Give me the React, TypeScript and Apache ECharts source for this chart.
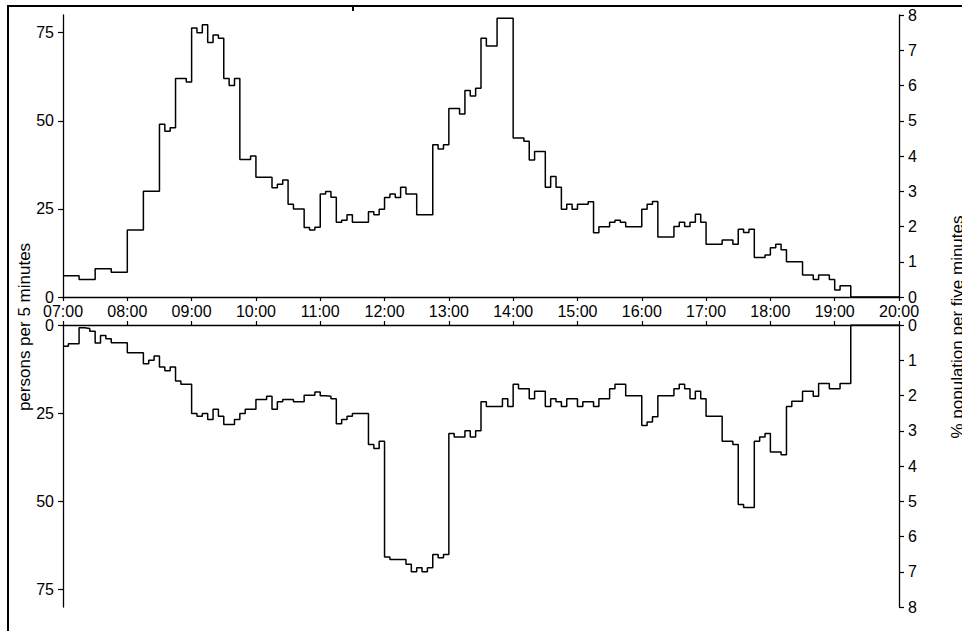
import React, { useEffect, useRef } from "react";
import * as echarts from "echarts";

// tick labels for the time axis (every hour from 07:00 to 20:00)
const hourLabels = [
  "07:00", "08:00", "09:00", "10:00", "11:00", "12:00", "13:00",
  "14:00", "15:00", "16:00", "17:00", "18:00", "19:00", "20:00",
];
const stepMinutes = 5;
const leftTicks = [0, 25, 50, 75];
const rightTicks = [0, 1, 2, 3, 4, 5, 6, 7, 8];

// persons per 5 minutes, upper panel (07:00 .. 20:00, 156 intervals)
const upperSeries = [
  6, 6, 6, 5, 5, 5, 8, 8, 8, 7, 7, 7,
  19, 19, 19, 30, 30, 30, 49, 47, 48, 62, 62, 61,
  76.3, 75, 77.2, 72.2, 74.3, 73.4, 62, 60, 62, 39, 39, 40,
  34, 34, 34, 31, 32, 33.2, 26.3, 25, 25, 19.7, 19, 19.8,
  29.2, 29.9, 28.3, 21.2, 21.8, 23.3, 21.2, 21.2, 21.2, 24.2, 23.3, 24.9,
  28.2, 29.2, 28.2, 31.1, 29.2, 29.2, 23.3, 23.3, 23.3, 43.2, 42, 43.2,
  53.5, 53.5, 51.9, 58.6, 57, 59.2, 73.4, 71.2, 71.2, 79.1, 79.1, 79.1,
  45.1, 45.1, 44.2, 38.9, 41.3, 41.3, 31.1, 34.2, 31.1, 24.9, 26.3, 24.9,
  26.3, 26.3, 27, 18.2, 19.9, 19.9, 21.2, 21.8, 21.2, 19.9, 19.9, 19.9,
  24.9, 26.3, 27.1, 17, 17, 17, 20, 21.2, 20, 21.2, 23.5, 21.2,
  15, 15, 15, 16.2, 16.2, 15, 19.2, 18.3, 19.2, 11.2, 11.2, 11.9,
  14, 15, 13.4, 10, 10, 10, 6.25, 6.25, 5, 6.25, 6.25, 5,
  2, 3.2, 3.2, 0, 0, 0, 0, 0, 0, 0, 0, 0,
];

// persons per 5 minutes, lower panel (drawn downward)
const lowerSeries = [
  6, 5.3, 5.3, 0.8, 1, 1.8, 5.1, 3, 3.9, 5, 5, 5,
  7.9, 7.9, 7.9, 11, 10, 8.8, 11.9, 13, 11.9, 15.9, 16.8, 16.8,
  25.1, 25.9, 25.1, 26.8, 23.9, 25.9, 28.2, 28.2, 26.8, 25.1, 23.9, 23.9,
  21.1, 21.1, 20.2, 23.9, 21.8, 21.1, 21.1, 21.8, 21.8, 19.9, 19.9, 19,
  20.1, 20.2, 20.9, 28, 26.8, 25.9, 25.1, 25.1, 25.1, 33.9, 35, 33,
  65.8, 66.5, 66.5, 66.5, 67.9, 70, 68.9, 70, 68.9, 65.1, 66, 65.1,
  30.8, 31.8, 31.8, 30, 31.8, 30, 21.8, 23.1, 23.1, 23.1, 20.9, 23.1,
  16.8, 18.1, 18.1, 20.9, 18.8, 18.8, 23.1, 20.9, 21.8, 23.1, 20.9, 20.9,
  23.1, 21.8, 21.8, 23.1, 20.9, 20.9, 18.1, 16.8, 16.8, 20.1, 20.1, 20.1,
  28.5, 27.5, 26, 20.1, 20.1, 20.1, 18.1, 16.8, 18.1, 20.9, 18.8, 20.9,
  25.9, 25.9, 25.9, 33, 33, 33.9, 50.9, 51.8, 51.8, 33, 31.8, 30.8,
  36, 36, 36.8, 23.1, 21.6, 21.6, 18.8, 18.8, 20.2, 16.6, 16.6, 18.1,
  18.1, 16.6, 16.6, 0, 0, 0, 0, 0, 0, 0, 0, 0,
];

const FONT = '"Liberation Sans", Arial, sans-serif';

function toSteps(values: number[]): number[][] {
  const pts = values.map((v, i) => [i * stepMinutes, v]);
  pts.push([values.length * stepMinutes, values[values.length - 1]]);
  return pts;
}

export default function App() {
  const ref = useRef<HTMLDivElement>(null);

  useEffect(() => {
    if (!ref.current) return;
    const chart = echarts.init(ref.current, null, { renderer: "svg" });
    const totalMin = (hourLabels.length - 1) * 60;
    const axisLine = { lineStyle: { color: "#000", width: 1.3 } };
    const label = { color: "#000", fontSize: 16, fontFamily: FONT };

    const xBase = (grid: number, pos: "top" | "bottom", showLabel: boolean) => ({
      type: "value",
      gridIndex: grid,
      position: pos,
      min: 0,
      max: totalMin,
      interval: 60,
      axisLine: { show: true, onZero: false, ...axisLine },
      axisTick: { show: true, length: 4, lineStyle: { color: "#000", width: 1.2 } },
      splitLine: { show: false },
      axisLabel: {
        show: showLabel,
        ...label,
        margin: 6,
        formatter: (v: number) => hourLabels[Math.round(v / 60)] ?? "",
      },
    });

    const yLeft = (grid: number, inverse: boolean) => ({
      type: "value",
      gridIndex: grid,
      position: "left",
      inverse,
      min: 0,
      max: 80,
      axisLine: { show: true, onZero: false, ...axisLine },
      axisTick: { show: true, length: 5, customValues: leftTicks, lineStyle: { color: "#000", width: 1.2 } },
      axisLabel: { ...label, margin: 9, customValues: leftTicks },
      splitLine: { show: false },
    });

    const yRight = (grid: number, inverse: boolean) => ({
      type: "value",
      gridIndex: grid,
      position: "right",
      inverse,
      min: 0,
      max: 8,
      interval: 1,
      axisLine: { show: true, onZero: false, ...axisLine },
      axisTick: { show: true, length: 5, customValues: rightTicks, lineStyle: { color: "#000", width: 1.2 } },
      axisLabel: { ...label, margin: 9, customValues: rightTicks },
      splitLine: { show: false },
    });

    chart.setOption({
      animation: false,
      backgroundColor: "#fff",
      grid: [
        { left: 63, width: 836, top: 15, height: 282 },
        { left: 63, width: 836, top: 325, height: 282 },
      ],
      xAxis: [xBase(0, "bottom", true), xBase(1, "top", false)],
      yAxis: [yLeft(0, false), yRight(0, false), yLeft(1, true), yRight(1, true)],
      series: [
        {
          type: "line",
          step: "end",
          xAxisIndex: 0,
          yAxisIndex: 0,
          symbol: "none",
          lineStyle: { color: "#000", width: 1.5 },
          data: toSteps(upperSeries),
        },
        {
          type: "line",
          step: "end",
          xAxisIndex: 1,
          yAxisIndex: 2,
          symbol: "none",
          lineStyle: { color: "#000", width: 1.5 },
          data: toSteps(lowerSeries),
        },
      ],
      graphic: [
        {
          type: "rect",
          shape: { x: 8, y: 6, width: 1200, height: 900 },
          style: { fill: "none", stroke: "#000", lineWidth: 2 },
          silent: true,
        },
        {
          type: "rect",
          shape: { x: 352, y: 6, width: 2, height: 5 },
          style: { fill: "#000" },
          silent: true,
        },
        {
          type: "text",
          x: 24,
          y: 327,
          rotation: Math.PI / 2,
          style: {
            text: "persons per 5 minutes",
            font: `17px ${FONT}`,
            fill: "#000",
            align: "center",
            verticalAlign: "middle",
            textAlign: "center",
            textVerticalAlign: "middle",
          },
        },
        {
          type: "text",
          x: 957,
          y: 327,
          rotation: Math.PI / 2,
          style: {
            text: "% population per five minutes",
            font: `17px ${FONT}`,
            fill: "#000",
            align: "center",
            verticalAlign: "middle",
            textAlign: "center",
            textVerticalAlign: "middle",
          },
        },
      ],
    });

    return () => chart.dispose();
  }, []);

  return (
    <div
      ref={ref}
      style={{ position: "fixed", left: 0, top: 0, width: 962, height: 631 }}
    />
  );
}
